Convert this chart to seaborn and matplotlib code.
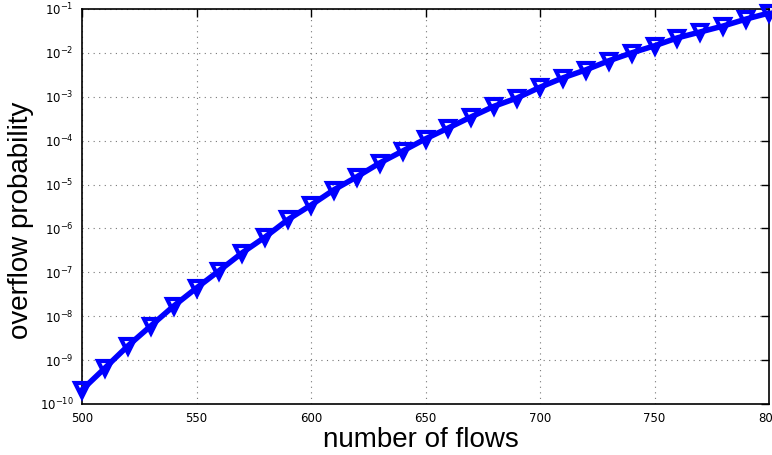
import matplotlib
matplotlib.use("Agg")
import matplotlib.pyplot as plt
import seaborn as sns
import pandas as pd
from matplotlib.ticker import LogLocator, NullLocator

flows = [500, 510, 520, 530, 540, 550, 560, 570, 580, 590, 600, 610, 620, 630, 640,
         650, 660, 670, 680, 690, 700, 710, 720, 730, 740, 750, 760, 770, 780, 790, 800]
prob = [2.1e-10, 6.6e-10, 2.1e-9, 6.0e-9, 1.7e-8, 4.4e-8, 1.1e-7, 2.8e-7, 6.4e-7, 1.6e-6,
        3.4e-6, 7.6e-6, 1.5e-5, 3.1e-5, 5.8e-5, 1.1e-4, 1.95e-4, 3.5e-4, 6.1e-4, 9.4e-4,
        1.65e-3, 2.7e-3, 4.1e-3, 6.6e-3, 1.0e-2, 1.45e-2, 2.2e-2, 3.0e-2, 4.1e-2, 5.9e-2, 8.1e-2]

df = pd.DataFrame({"flows": flows, "prob": prob})

sns.set_style("white")
plt.rcParams['font.family'] = ['DejaVu Sans']
plt.rcParams['text.color'] = 'black'
plt.rcParams['axes.labelcolor'] = 'black'
plt.rcParams['xtick.color'] = 'black'
plt.rcParams['ytick.color'] = 'black'

fig = plt.figure(figsize=(7.72, 4.55), dpi=100)
ax = fig.add_axes([82/772, 51/455, 687/772, 395/455])

sns.lineplot(data=df, x="flows", y="prob", ax=ax, color=(0, 0, 1), linewidth=4,
             marker="v", markersize=10, markeredgecolor=(0, 0, 1), markeredgewidth=3,
             markerfacecolor="none", clip_on=False, zorder=5)

ax.set_yscale("log")
ax.set_xlim(500, 800)
ax.set_ylim(1e-10, 1e-1)
ax.yaxis.set_major_locator(LogLocator(base=10, numticks=20))
ax.yaxis.set_minor_locator(NullLocator())
ax.set_xticks([500, 550, 600, 650, 700, 750, 800])

ax.grid(True, which="major", linestyle=(0, (1, 4)), color="#777777", linewidth=0.8)
ax.tick_params(axis="both", which="major", direction="in", length=6, width=1,
               top=True, right=True, labelsize=8.5, pad=6, colors="black")
for s in ax.spines.values():
    s.set_visible(True)
    s.set_color("black")
    s.set_linewidth(1.2)

ax.set_xlabel("number of flows", fontsize=20, family="Liberation Sans", color="black")
ax.set_ylabel("overflow probability", fontsize=20, family="Liberation Sans", color="black")
ax.xaxis.set_label_coords(0.4935, -0.057)
ax.yaxis.set_label_coords(-0.070, 0.466)

fig.savefig("out.png", dpi=100)
